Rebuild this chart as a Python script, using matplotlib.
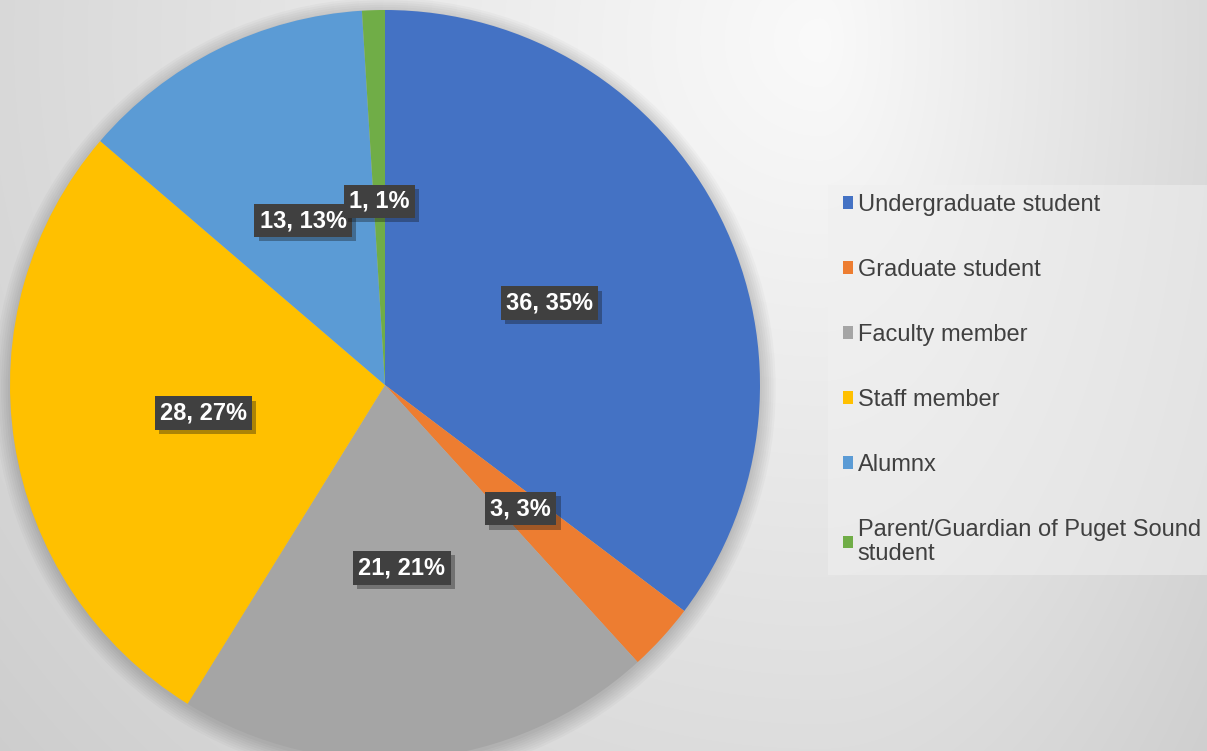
import matplotlib.pyplot as plt
import matplotlib.patheffects as pe
from matplotlib.patches import Rectangle, Circle
import numpy as np

plt.rcParams['font.family'] = ['Liberation Sans', 'DejaVu Sans']

categories = ['Undergraduate student', 'Graduate student', 'Faculty member',
              'Staff member', 'Alumnx', 'Parent/Guardian of Puget Sound\nstudent']
counts = [36, 3, 21, 28, 13, 1]
colors = ['#4472C4', '#ED7D31', '#A5A5A5', '#FFC000', '#5B9BD5', '#70AD47']

W, H = 1207, 751
fig = plt.figure(figsize=(W / 100, H / 100), dpi=100)

# grey radial background, lightest near the top right
bg = fig.add_axes([0, 0, 1, 1])
yy, xx = np.mgrid[0:H, 0:W]
dx = xx - 820.0
dx = np.where(dx > 0, dx * 2.0, dx)
d = np.hypot(dx, yy - 40.0)
v = np.clip(0.98 - 0.16 * d / 1000, 0.78, 1)
bg.imshow(np.dstack([v, v, v]), aspect='auto', extent=[0, W, H, 0])
bg.set_xlim(0, W)
bg.set_ylim(H, 0)
bg.axis('off')
bg.add_patch(Rectangle((828, 185), 380, 390, facecolor='#f0f0f0', alpha=0.5, edgecolor='none'))

# pie
ax = fig.add_axes([10 / W, (H - 760) / H, 750 / W, 750 / H])
for i in range(8):
    ax.add_patch(Circle((0.0, -0.01), 1.0 + 0.006 * i, color='k', alpha=0.025, lw=0, clip_on=False))

total = sum(counts)


def fmt(p):
    n = int(round(p * total / 100))
    return f'{n}, {p:.0f}%'


wedges, texts, autotexts = ax.pie(counts, colors=colors, startangle=90, counterclock=False,
                                  autopct=fmt, pctdistance=0.49,
                                  wedgeprops=dict(linewidth=0))
for t in autotexts:
    t.set_fontsize(17)
    t.set_fontweight('bold')
    t.set_color('white')
    t.set_bbox(dict(boxstyle='square,pad=0.22', fc='#404040', ec='none'))
    t.get_bbox_patch().set_path_effects([pe.SimplePatchShadow(offset=(3, -3), alpha=0.35), pe.Normal()])
ax.set_xlim(-1, 1)
ax.set_ylim(-1, 1)

leg = fig.legend(wedges, categories, loc='upper left', bbox_to_anchor=(843 / W, 1 - 194 / H),
                 frameon=False, fontsize=17, handlelength=0.42, handleheight=0.42,
                 handletextpad=0.2, labelspacing=1.82, borderpad=0, borderaxespad=0,
                 labelcolor='#404040')
for t in leg.get_texts():
    t.set_linespacing(1.15)

fig.savefig('out.png', dpi=100)
